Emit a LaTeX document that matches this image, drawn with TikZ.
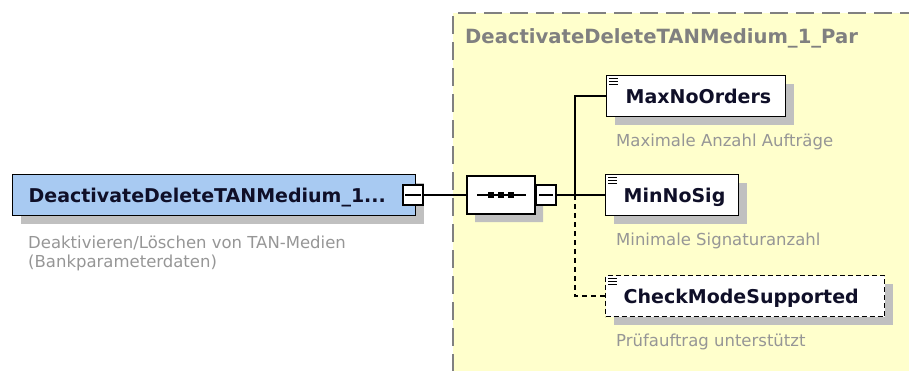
\documentclass[tikz,border=0pt]{standalone}
\usepackage{fontspec}
\setmainfont{DejaVu Sans}
\usetikzlibrary{shapes.misc,shadows}
\definecolor{yel}{RGB}{255,255,204}
\definecolor{blu}{RGB}{168,202,242}
\definecolor{shd}{RGB}{192,192,192}
\definecolor{titlegray}{RGB}{128,128,128}
\definecolor{descgray}{RGB}{150,150,150}
\definecolor{bordergray}{RGB}{128,128,128}
\definecolor{txt}{RGB}{15,15,40}
\begin{document}
\begin{tikzpicture}[x=1pt,y=-1pt,
  shd/.style={drop shadow={shadow xshift=8pt,shadow yshift=-8pt,fill=shd,opacity=1}},
  boxtext/.style={font=\fontsize{19}{22}\selectfont\bfseries, text=txt, align=left,
    text height=14pt, text depth=0pt, inner ysep=0pt, minimum height=40pt},
  mainbox/.style={boxtext, draw=black, line width=1.3pt, fill=blu, shd},
  elembox/.style={boxtext, draw=black, line width=1.3pt, fill=white, shd},
  optbox/.style={elembox, dash pattern=on 5pt off 3pt},
  minusbox/.style={draw=black, line width=1.2pt, fill=white, minimum size=20pt, inner sep=0pt},
  conn/.style={draw=black, line width=1.2pt},
  optconn/.style={conn, dash pattern=on 5pt off 4pt},
  desc/.style={font=\fontsize{16.5}{19}\selectfont, text=descgray, align=left, inner sep=0pt, anchor=base west},
  icon/.style={line width=0.9pt}
]
\useasboundingbox (0,0) rectangle (909,370);
% yellow group area
\fill[yel] (453,13) rectangle (915,375);
\draw[bordergray, line width=1.5pt, dash pattern=on 18pt off 8pt] (453,372) -- (453,13) -- (912,13);
\node[font=\fontsize{19.6}{22}\selectfont\bfseries, text=titlegray, anchor=base west, inner sep=0pt] (title) at (465,43) {DeactivateDeleteTANMedium\_1\_Par};

% main element
\node[mainbox, anchor=west, inner xsep=16pt, text width=371pt, minimum height=41pt] (main) at (12,195) {DeactivateDeleteTANMedium\_1...};
\node[desc] (maindesc) at (28,267) {Deaktivieren/Löschen von TAN-Medien\\(Bankparameterdaten)};
\node[minusbox] (m1) at (413,195) {};
\draw[line width=1.2pt] ([xshift=3pt]m1.west) -- ([xshift=-3pt]m1.east);

% sequence compositor
\node[draw=black, line width=1.2pt, fill=white, chamfered rectangle, chamfered rectangle xsep=8pt, chamfered rectangle ysep=8pt,
  minimum width=68pt, minimum height=38pt, inner sep=0pt, shd] (seq) at (501,195) {};
\draw[line width=1.2pt] (477,195) -- (526,195);
\foreach \x in {491,501,511} \fill (\x-3,192) rectangle (\x+3,198);
\node[minusbox] (m2) at (546,195) {};
\draw[line width=1.2pt] ([xshift=4pt]m2.west) -- ([xshift=-4pt]m2.east);
\draw[conn] (m1.east) -- (seq.west);
\coordinate (tj) at (575,195);
\draw[conn] (m2.east) -- (tj);

% child elements
\node[elembox, anchor=west, inner xsep=19pt, text width=141pt, minimum height=41pt] (max) at (606,96) {MaxNoOrders};
\node[elembox, anchor=west, inner xsep=18pt, text width=97pt, minimum height=41pt] (min) at (605,195) {MinNoSig};
\node[optbox, anchor=west, inner xsep=18pt, text width=243pt, minimum height=41pt] (chk) at (605,296) {CheckModeSupported};
\foreach \n in {max,min,chk}{
  \foreach \dy in {4,7,10} \draw[icon] ([xshift=3pt,yshift=-\dy pt]\n.north west) -- ++(9,0);
}
\node[desc] (maxdesc) at (616,146) {Maximale Anzahl Aufträge};
\node[desc] (mindesc) at (616,245) {Minimale Signaturanzahl};
\node[desc] (chkdesc) at (616,346) {Prüfauftrag unterstützt};

\draw[conn] (tj) |- (max.west);
\draw[conn] (tj) -- (min.west);
\draw[optconn] (tj) |- (chk.west);
\end{tikzpicture}
\end{document}
